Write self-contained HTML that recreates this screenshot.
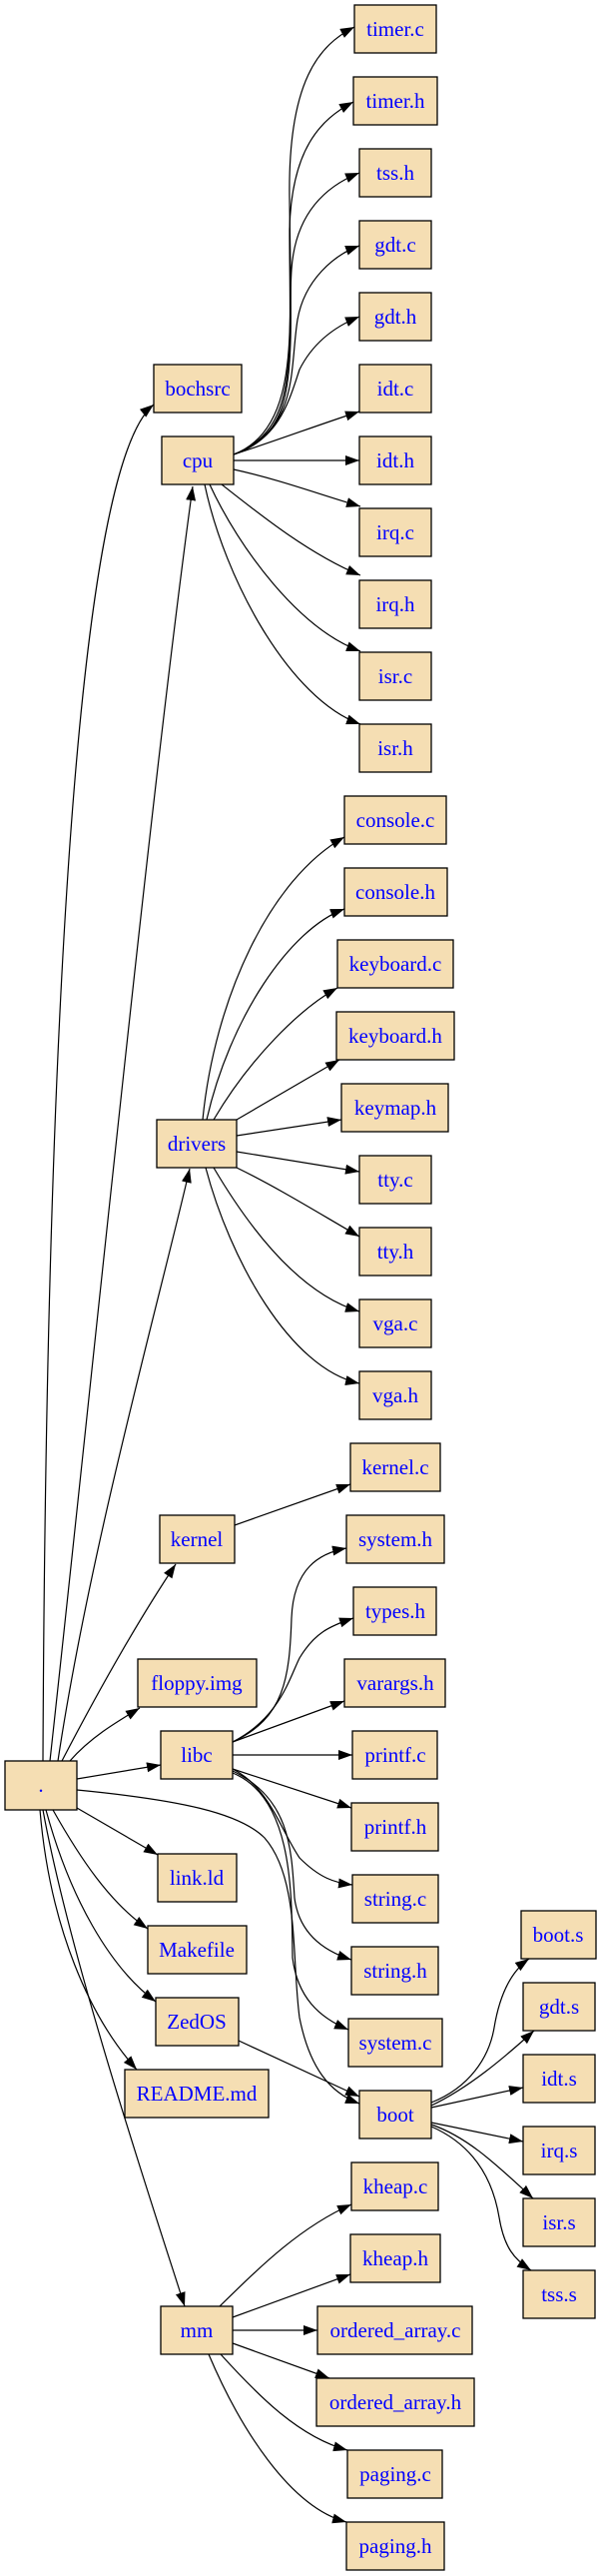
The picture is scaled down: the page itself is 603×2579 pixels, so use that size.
<!DOCTYPE html>
<html><head><meta charset="utf-8"><style>
html,body{margin:0;padding:0;background:#fff;}
svg{display:block;}
text{font-family:"Liberation Serif",serif;font-size:21px;fill:#0000ff;}
rect{fill:#f5deb3;stroke:#000;stroke-width:1.3;}
path.e{fill:none;stroke:#000;stroke-width:1.2;}
</style></head><body>
<svg width="603" height="2579" viewBox="0 0 603 2579" xmlns="http://www.w3.org/2000/svg">
<defs><marker id="a" markerUnits="userSpaceOnUse" markerWidth="15" markerHeight="11" refX="14" refY="5" orient="auto"><path d="M0,0 L14,5 L0,10 z" fill="#000"/></marker></defs>
<g marker-end="url(#a)">
<path class="e" d="M43 1763 C45 1300 60 480 154 405"/>
<path class="e" d="M50 1763 C90 1400 150 800 193 487"/>
<path class="e" d="M58 1763 C90 1550 160 1300 190 1170"/>
<path class="e" d="M62 1763 C100 1690 140 1620 176 1566"/>
<path class="e" d="M70 1763 C90 1740 115 1725 140 1710"/>
<path class="e" d="M77 1781 L161 1767"/>
<path class="e" d="M77 1792 C180 1802 240 1815 265 1840 C300 1880 292 1960 300 2020 C310 2070 330 2095 360 2106"/>
<path class="e" d="M77 1810 L158 1857"/>
<path class="e" d="M53 1812 C80 1860 110 1905 148 1931"/>
<path class="e" d="M46 1812 C70 1900 110 1970 156 2004"/>
<path class="e" d="M40 1812 C50 1930 90 2020 137 2072"/>
<path class="e" d="M43 1812 C70 1960 150 2200 185 2309"/>
<path class="e" d="M234 455 C300 430 292 380 290 200 C288 80 320 45 355 27"/>
<path class="e" d="M234 455 C300 430 290 360 290 230 C292 150 320 120 354 102"/>
<path class="e" d="M234 455 C300 430 288 330 292 270 C296 210 330 185 360 173"/>
<path class="e" d="M234 455 C300 430 290 370 298 320 C305 280 335 255 360 246"/>
<path class="e" d="M234 455 C280 440 290 400 300 370 C315 340 340 325 360 317"/>
<path class="e" d="M234 455 C280 440 320 425 360 412"/>
<path class="e" d="M234 461 L360 461"/>
<path class="e" d="M234 470 C280 480 320 495 361 507"/>
<path class="e" d="M222 485 C260 515 310 555 361 576"/>
<path class="e" d="M210 485 C240 550 300 630 361 652"/>
<path class="e" d="M205 485 C225 580 290 700 361 725"/>
<path class="e" d="M203 1121 C215 1000 270 880 345 838"/>
<path class="e" d="M207 1121 C230 1020 290 930 345 910"/>
<path class="e" d="M214 1121 C250 1060 300 1010 338 989"/>
<path class="e" d="M237 1121 L340 1061"/>
<path class="e" d="M237 1137 L342 1121"/>
<path class="e" d="M237 1153 L360 1173"/>
<path class="e" d="M237 1169 C280 1190 320 1215 360 1238"/>
<path class="e" d="M214 1169 C250 1230 300 1295 360 1313"/>
<path class="e" d="M206 1169 C230 1260 290 1370 360 1385"/>
<path class="e" d="M235 1527 L351 1486"/>
<path class="e" d="M233 1744 C285 1720 290 1680 292 1620 C294 1570 320 1555 347 1550"/>
<path class="e" d="M233 1744 C280 1720 290 1680 300 1660 C315 1635 330 1628 354 1620"/>
<path class="e" d="M233 1744 L345 1703"/>
<path class="e" d="M233 1757 L353 1757"/>
<path class="e" d="M233 1771 L352 1810"/>
<path class="e" d="M233 1771 C270 1790 280 1830 300 1860 C320 1880 335 1885 353 1887"/>
<path class="e" d="M233 1773 C290 1800 292 1850 295 1900 C300 1940 330 1955 352 1962"/>
<path class="e" d="M233 1775 C295 1800 292 1900 293 1960 C298 2000 320 2020 349 2032"/>
<path class="e" d="M239 2043 L360 2099"/>
<path class="e" d="M432 2105 C470 2090 490 2060 495 2030 C500 2000 510 1975 530 1961"/>
<path class="e" d="M432 2108 C470 2090 505 2060 535 2033"/>
<path class="e" d="M432 2110 L524 2090"/>
<path class="e" d="M432 2125 L524 2144"/>
<path class="e" d="M432 2127 C470 2140 500 2170 534 2201"/>
<path class="e" d="M432 2129 C480 2150 495 2190 500 2220 C505 2250 515 2262 532 2273"/>
<path class="e" d="M220 2309 C260 2270 300 2230 352 2207"/>
<path class="e" d="M233 2320 L351 2277"/>
<path class="e" d="M233 2333 L318 2333"/>
<path class="e" d="M233 2346 L330 2381"/>
<path class="e" d="M221 2357 C260 2400 300 2440 348 2453"/>
<path class="e" d="M209 2357 C240 2430 290 2510 347 2525"/>
</g>
<g text-anchor="middle">
<rect x="5" y="1763" width="72" height="49"/><text x="41" y="1794">.</text>
<rect x="154" y="365" width="88" height="48"/><text x="198" y="396">bochsrc</text>
<rect x="162" y="437" width="72" height="48"/><text x="198" y="468">cpu</text>
<rect x="355" y="5" width="82" height="48"/><text x="396" y="36">timer.c</text>
<rect x="354" y="77" width="84" height="48"/><text x="396" y="108">timer.h</text>
<rect x="360" y="149" width="72" height="48"/><text x="396" y="180">tss.h</text>
<rect x="360" y="221" width="72" height="48"/><text x="396" y="252">gdt.c</text>
<rect x="360" y="293" width="72" height="48"/><text x="396" y="324">gdt.h</text>
<rect x="360" y="365" width="72" height="48"/><text x="396" y="396">idt.c</text>
<rect x="360" y="437" width="72" height="48"/><text x="396" y="468">idt.h</text>
<rect x="360" y="509" width="72" height="48"/><text x="396" y="540">irq.c</text>
<rect x="360" y="581" width="72" height="48"/><text x="396" y="612">irq.h</text>
<rect x="360" y="653" width="72" height="48"/><text x="396" y="684">isr.c</text>
<rect x="360" y="725" width="72" height="48"/><text x="396" y="756">isr.h</text>
<rect x="157" y="1121" width="80" height="48"/><text x="197" y="1152">drivers</text>
<rect x="345" y="797" width="102" height="48"/><text x="396" y="828">console.c</text>
<rect x="345" y="869" width="103" height="48"/><text x="396" y="900">console.h</text>
<rect x="338" y="941" width="116" height="48"/><text x="396" y="972">keyboard.c</text>
<rect x="337" y="1013" width="118" height="48"/><text x="396" y="1044">keyboard.h</text>
<rect x="342" y="1085" width="107" height="48"/><text x="396" y="1116">keymap.h</text>
<rect x="360" y="1157" width="72" height="48"/><text x="396" y="1188">tty.c</text>
<rect x="360" y="1229" width="72" height="48"/><text x="396" y="1260">tty.h</text>
<rect x="360" y="1301" width="72" height="48"/><text x="396" y="1332">vga.c</text>
<rect x="360" y="1373" width="72" height="48"/><text x="396" y="1404">vga.h</text>
<rect x="160" y="1517" width="75" height="48"/><text x="197" y="1548">kernel</text>
<rect x="351" y="1445" width="90" height="48"/><text x="396" y="1476">kernel.c</text>
<rect x="138" y="1661" width="119" height="48"/><text x="197" y="1692">floppy.img</text>
<rect x="161" y="1733" width="72" height="48"/><text x="197" y="1764">libc</text>
<rect x="347" y="1517" width="98" height="48"/><text x="396" y="1548">system.h</text>
<rect x="354" y="1589" width="83" height="48"/><text x="396" y="1620">types.h</text>
<rect x="345" y="1661" width="101" height="48"/><text x="396" y="1692">varargs.h</text>
<rect x="353" y="1733" width="85" height="48"/><text x="396" y="1764">printf.c</text>
<rect x="352" y="1805" width="87" height="48"/><text x="396" y="1836">printf.h</text>
<rect x="353" y="1877" width="86" height="48"/><text x="396" y="1908">string.c</text>
<rect x="352" y="1949" width="87" height="48"/><text x="396" y="1980">string.h</text>
<rect x="349" y="2021" width="94" height="48"/><text x="396" y="2052">system.c</text>
<rect x="158" y="1856" width="79" height="48"/><text x="197" y="1887">link.ld</text>
<rect x="148" y="1928" width="99" height="48"/><text x="197" y="1959">Makefile</text>
<rect x="156" y="2000" width="83" height="48"/><text x="197" y="2031">ZedOS</text>
<rect x="125" y="2072" width="144" height="48"/><text x="197" y="2103">README.md</text>
<rect x="360" y="2093" width="72" height="48"/><text x="396" y="2124">boot</text>
<rect x="522" y="1913" width="75" height="48"/><text x="559" y="1944">boot.s</text>
<rect x="524" y="1985" width="72" height="48"/><text x="560" y="2016">gdt.s</text>
<rect x="524" y="2057" width="72" height="48"/><text x="560" y="2088">idt.s</text>
<rect x="524" y="2129" width="72" height="48"/><text x="560" y="2160">irq.s</text>
<rect x="524" y="2201" width="72" height="48"/><text x="560" y="2232">isr.s</text>
<rect x="524" y="2273" width="72" height="48"/><text x="560" y="2304">tss.s</text>
<rect x="161" y="2309" width="72" height="48"/><text x="197" y="2340">mm</text>
<rect x="352" y="2165" width="87" height="48"/><text x="396" y="2196">kheap.c</text>
<rect x="351" y="2237" width="90" height="48"/><text x="396" y="2268">kheap.h</text>
<rect x="318" y="2309" width="155" height="48"/><text x="396" y="2340">ordered_array.c</text>
<rect x="317" y="2381" width="158" height="48"/><text x="396" y="2412">ordered_array.h</text>
<rect x="348" y="2453" width="95" height="48"/><text x="396" y="2484">paging.c</text>
<rect x="347" y="2525" width="98" height="48"/><text x="396" y="2556">paging.h</text>
</g>
</svg>
</body></html>
